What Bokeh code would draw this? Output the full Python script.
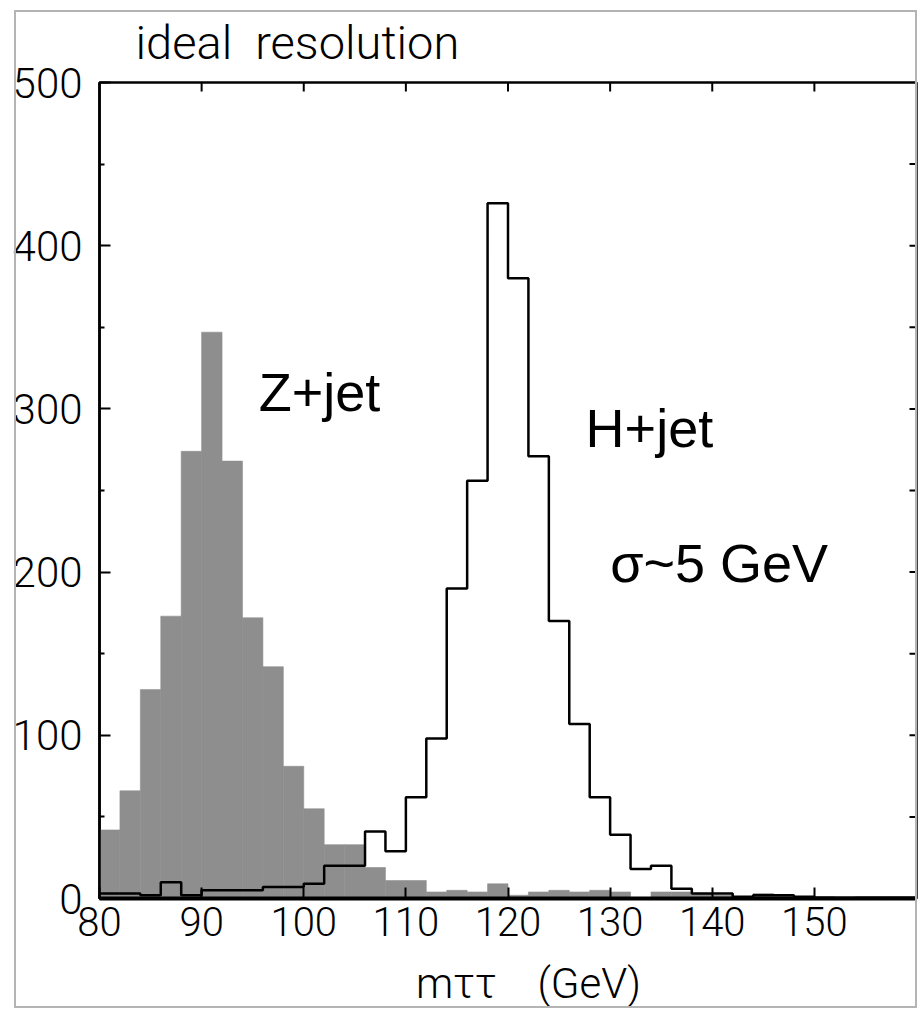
from bokeh.plotting import figure
from bokeh.models import Range1d, LinearAxis, FixedTicker, Label, ColumnDataSource, InlineStyleSheet
from bokeh.embed import file_html
from bokeh.resources import INLINE

# ---- data ----
bin_edges = list(range(80, 162, 2))  # 2 GeV bins, 80..160
z_jet_counts = [42, 66, 128, 173, 274, 347, 268, 172, 142, 81,
                55, 33, 33, 19, 11, 11, 4, 5, 4, 9,
                2, 4, 5, 4, 5, 4, 0, 4, 4, 3,
                2, 1, 3, 2, 1, 1, 0, 1, 1, 1]
h_jet_counts = [3, 3, 2, 10, 2, 5, 5, 5, 7, 7,
                9, 20, 20, 41, 29, 62, 98, 190, 256, 426,
                380, 271, 170, 107, 62, 39, 18, 20, 6, 3,
                3, 1, 2, 2, 1, 0.5, 0.5, 0.5, 0.5, 0.5]
x_tick_values = [80, 90, 100, 110, 120, 130, 140, 150]
x_top_ticks = [90, 100, 110, 120, 130, 140, 150]
y_tick_values = [0, 100, 200, 300, 400, 500]
y_minor_ticks = [50, 150, 250, 350, 450]
y_right_ticks = [50, 100, 150, 200, 250, 300, 350, 400, 450]
x_min, x_max = 80, 160
y_min, y_max = 0, 500

THIN = "Roboto Light"
SANS = "Liberation Sans"
NB = "\u00a0"

p = figure(width=918, height=1013, x_range=Range1d(x_min, x_max), y_range=Range1d(y_min, y_max),
           output_backend="svg", toolbar_location=None,
           x_axis_type=None, y_axis_type=None,
           min_border_left=99, min_border_right=2, min_border_top=82, min_border_bottom=115)
p.background_fill_color = "white"
p.border_fill_color = "white"
p.outline_line_color = "black"
p.outline_line_width = 2.5

# page box around the whole chart
p.stylesheets = [InlineStyleSheet(css=(
    ":host::after { content: ''; position: absolute; left: 14px; top: 10px; "
    "right: 1px; bottom: 5px; border: 2px solid #b4b4b4; pointer-events: none; }"))]

# title
p.title.text = "ideal" + NB + NB + "resolution"
p.title.text_font = THIN
p.title.text_font_size = "47px"
p.title.text_font_style = "normal"
p.title.text_color = "black"
p.title.align = "left"
p.title.vertical_align = "top"
p.title.offset = 36
p.title.standoff = 22

# left axis
ya = LinearAxis(ticker=FixedTicker(ticks=y_tick_values, minor_ticks=y_minor_ticks))
ya.major_tick_in = 11
ya.major_tick_out = 0
ya.minor_tick_in = 5
ya.minor_tick_out = 0
ya.major_label_standoff = 17
ya.major_label_text_font_size = "42px"
ya.major_label_text_font = THIN
ya.major_label_text_color = "black"
ya.axis_line_width = 2.5
ya.major_tick_line_width = 2
ya.minor_tick_line_width = 2
p.add_layout(ya, "left")

# bottom axis
xa = LinearAxis(ticker=FixedTicker(ticks=x_tick_values))
xa.major_tick_in = 11
xa.major_tick_out = 0
xa.minor_tick_in = 0
xa.minor_tick_out = 0
xa.major_label_standoff = 8
xa.major_label_text_font_size = "40px"
xa.major_label_text_font = THIN
xa.major_label_text_color = "black"
xa.axis_line_width = 4
xa.major_tick_line_width = 2
xa.axis_label = NB * 4 + "mττ" + NB * 4 + "(GeV)"
xa.axis_label_text_font = THIN
xa.axis_label_text_font_size = "42px"
xa.axis_label_text_font_style = "normal"
xa.axis_label_text_color = "black"
xa.axis_label_standoff = 20
p.add_layout(xa, "below")

# inward ticks on the top and right frame edges (half of each dash is clipped by the frame)
p.scatter(x=x_top_ticks, y=[y_max] * len(x_top_ticks), marker="dash", size=18, angle=1.5708,
          line_color="black", line_width=2)
p.scatter(x=[x_max] * len(y_right_ticks), y=y_right_ticks, marker="dash", size=14,
          line_color="black", line_width=2)

# histograms
src_z = ColumnDataSource(dict(left=bin_edges[:-1], right=bin_edges[1:], top=z_jet_counts))
p.quad(left="left", right="right", top="top", bottom=0, source=src_z,
       fill_color="#8e8e8e", line_color="#8e8e8e", line_width=0.6)
p.step(x=bin_edges, y=h_jet_counts + [h_jet_counts[-1]], mode="after",
       line_color="black", line_width=2.5)

# texts inside the frame
def lab(x, y, text, size, font):
    p.add_layout(Label(x=x, y=y, text=text, text_font_size=size, text_font=font,
                       text_color="black", text_align="left", text_baseline="alphabetic"))

lab(95.6, 310.5, "Z+jet", "54px", SANS)
lab(127.6, 288.0, "H+jet", "54px", SANS)
lab(130.0, 205.5, "σ~5 GeV", "54px", SANS)

open("out.html", "w").write(file_html(p, INLINE))
